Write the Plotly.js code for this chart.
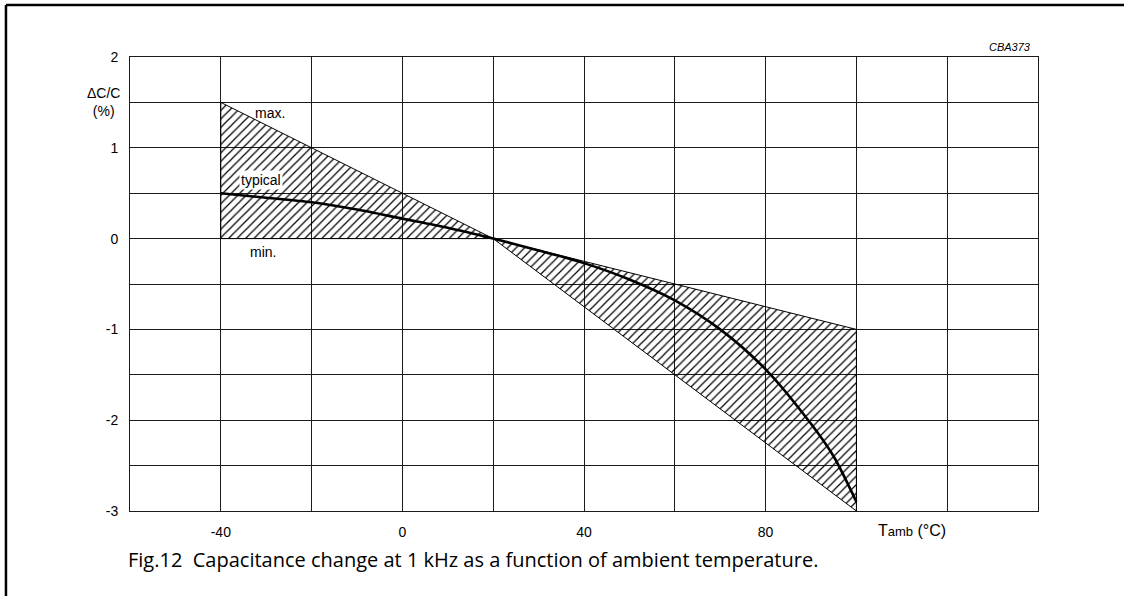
<!DOCTYPE html>
<html>
<head>
<meta charset="utf-8">
<script src="https://cdn.plot.ly/plotly-3.0.1.min.js"></script>
<style>html,body{margin:0;padding:0;background:#fff;}#chart{width:1124px;height:596px;}</style>
</head>
<body>
<div id="chart"></div>
<script>
// Tolerance band outline (max. upper edge, min. lower edge), drawn as one closed polygon
const bandT = [-40, 20, 100, 100, 20, -40, -40];
const bandC = [1.5, 0, -1, -3, 0, 0, 1.5];

// Typical curve
const typT = [-40, -30, -20, -10, 0, 10, 20, 30, 40, 50, 60, 70, 80, 90, 95, 100];
const typC = [0.5, 0.45, 0.4, 0.32, 0.22, 0.12, 0, -0.13, -0.27, -0.45, -0.68, -1.0, -1.44, -2.04, -2.4, -2.9];

// Axis tick labels (grid every 20 °C and every 0.5 %)
const xTicks = [-40, 0, 40, 80];
const xTickText = ['-40', '0', '40', '80'];
const yTicks = [-3, -2, -1, 0, 1, 2];
const yTickText = ['-3', '-2', '-1', '0', '1', '2'];

const font = 'Liberation Sans, Arial, sans-serif';
const gridCol = '#1a1a1a';

const traces = [
  {
    x: bandT, y: bandC, type: 'scatter', mode: 'lines',
    fill: 'toself', fillcolor: 'rgba(255,255,255,0)',
    fillpattern: {shape: '/', size: 6, solidity: 0.2, fgcolor: '#000', bgcolor: 'rgba(255,255,255,0)', fgopacity: 1},
    line: {color: '#000', width: 1},
    hoverinfo: 'skip', showlegend: false
  },
  {
    x: typT, y: typC, type: 'scatter', mode: 'lines',
    line: {color: '#000', width: 2.6, shape: 'spline', smoothing: 0.8},
    showlegend: false
  }
];

const layout = {
  width: 1124, height: 596,
  margin: {l: 130, r: 86, t: 57, b: 85},
  paper_bgcolor: '#fff', plot_bgcolor: 'rgba(0,0,0,0)',
  font: {family: font, size: 14, color: '#000'},
  xaxis: {
    range: [-60, 140], tickmode: 'array', tickvals: xTicks, ticktext: xTickText,
    showgrid: true, gridcolor: gridCol, gridwidth: 1, zeroline: false,
    minor: {dtick: 20, tick0: 0, showgrid: true, gridcolor: gridCol, gridwidth: 1, ticks: ''},
    showline: true, mirror: true, linecolor: gridCol, linewidth: 1,
    ticks: '', ticklabelstandoff: 8, tickfont: {family: font, size: 14}, fixedrange: true
  },
  yaxis: {
    range: [-3, 2], tickmode: 'array', tickvals: yTicks, ticktext: yTickText,
    showgrid: true, gridcolor: gridCol, gridwidth: 1, zeroline: false,
    minor: {dtick: 0.5, tick0: 0, showgrid: true, gridcolor: gridCol, gridwidth: 1, ticks: ''},
    showline: true, mirror: true, linecolor: gridCol, linewidth: 1,
    ticks: '', ticklabelstandoff: 8, tickfont: {family: font, size: 14}, fixedrange: true
  },
  shapes: [
    {type: 'line', xref: 'paper', yref: 'paper', x0: -0.1366, x1: 1.2, y0: 1.1145, y1: 1.1145, line: {color: '#000', width: 2.5}},
    {type: 'line', xref: 'paper', yref: 'paper', x0: -0.1366, x1: -0.1366, y0: 1.1145, y1: -0.3, line: {color: '#000', width: 2.5}}
  ],
  annotations: [
    {xref: 'paper', yref: 'paper', x: -0.009, y: 0.9, xanchor: 'right', yanchor: 'middle', align: 'center', showarrow: false,
     text: 'ΔC/C<br>(%)', font: {family: font, size: 14}},
    {xref: 'paper', yref: 'paper', x: 0.995, y: 1.005, xanchor: 'right', yanchor: 'bottom', showarrow: false,
     text: '<i>CBA373</i>', font: {family: font, size: 11}},
    {xref: 'paper', yref: 'paper', x: 0.822, y: -0.042, xanchor: 'left', yanchor: 'middle', showarrow: false,
     text: 'T<span style="font-size:13px">amb</span> (°C)', font: {family: font, size: 16}},
    {xref: 'paper', yref: 'paper', x: -0.004, y: -0.106, xanchor: 'left', yanchor: 'middle', showarrow: false,
     text: 'Fig.12  Capacitance change at 1 kHz as a function of ambient temperature.', font: {family: 'Open Sans, sans-serif', size: 20}},
    {xref: 'x', yref: 'y', x: -33, y: 1.38, xanchor: 'left', yanchor: 'middle', showarrow: false,
     text: 'max.', font: {family: font, size: 14}},
    {xref: 'x', yref: 'y', x: -36, y: 0.65, xanchor: 'left', yanchor: 'middle', showarrow: false, bgcolor: '#fff', borderpad: 1,
     text: 'typical', font: {family: font, size: 14}},
    {xref: 'x', yref: 'y', x: -34, y: -0.15, xanchor: 'left', yanchor: 'middle', showarrow: false,
     text: 'min.', font: {family: font, size: 14}}
  ]
};

Plotly.newPlot('chart', traces, layout, {staticPlot: true, displayModeBar: false});
</script>
</body>
</html>
